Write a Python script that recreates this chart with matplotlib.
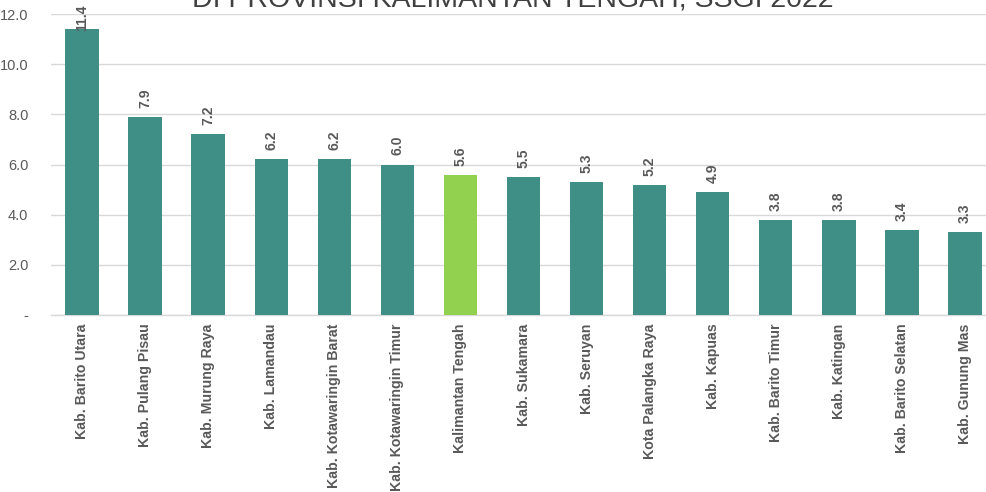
import matplotlib.pyplot as plt
import numpy as np

# === Data ===
wilayah = [
    "Kab. Barito Utara", "Kab. Pulang Pisau", "Kab. Murung Raya",
    "Kab. Lamandau", "Kab. Kotawaringin Barat", "Kab. Kotawaringin Timur",
    "Kalimantan Tengah", "Kab. Sukamara", "Kab. Seruyan",
    "Kota Palangka Raya", "Kab. Kapuas", "Kab. Barito Timur",
    "Kab. Katingan", "Kab. Barito Selatan", "Kab. Gunung Mas",
]
nilai = [11.4, 7.9, 7.2, 6.2, 6.2, 6.0, 5.6, 5.5, 5.3, 5.2, 4.9, 3.8, 3.8, 3.4, 3.3]
yticks = [0, 2, 4, 6, 8, 10, 12]
ytick_labels = ["-", "2.0", "4.0", "6.0", "8.0", "10.0", "12.0"]

TEAL = "#3F8F87"
GREEN = "#92D050"
GRAY = "#595959"

plt.rcParams['font.family'] = ['Liberation Sans', 'DejaVu Sans']

fig = plt.figure(figsize=(9.86, 4.92), dpi=100)
ax = fig.add_axes([50.5 / 986, 1 - 315 / 492, 946 / 986, 301 / 492])

x = np.arange(len(wilayah))
colors = [GREEN if w == "Kalimantan Tengah" else TEAL for w in wilayah]
ax.bar(x, nilai, width=0.53, color=colors, zorder=3)

for xi, v in zip(x, nilai):
    if v > 11:
        # label pushed inside the plot area when the bar is close to the top
        ax.annotate(f"{v:.1f}", (xi, 12), xytext=(0, 7), textcoords="offset points",
                    rotation=90, ha="center", va="top", fontsize=10,
                    fontweight="bold", color=GRAY, zorder=4)
    else:
        ax.annotate(f"{v:.1f}", (xi, v), xytext=(0, 6.5), textcoords="offset points",
                    rotation=90, ha="center", va="bottom", fontsize=10,
                    fontweight="bold", color=GRAY, zorder=4)

ax.set_xlim(-0.5, len(wilayah) - 0.5)
ax.set_ylim(0, 12)
ax.set_yticks(yticks)
ax.set_yticklabels(ytick_labels, fontsize=10.5, color=GRAY)
ax.set_xticks(x)
ax.set_xticklabels(wilayah, rotation=90, fontsize=10.2, fontweight="bold", color=GRAY)
ax.tick_params(axis="both", length=0)
ax.tick_params(axis="x", pad=6)
ax.tick_params(axis="y", pad=16)

ax.grid(axis="y", color="#D9D9D9", linewidth=1, zorder=0)
for s in ["top", "right", "left"]:
    ax.spines[s].set_visible(False)
ax.spines["bottom"].set_color("#D9D9D9")
ax.spines["bottom"].set_linewidth(1)

fig.text(0.52, 1 - 7 / 492, "DI PROVINSI KALIMANTAN TENGAH, SSGI 2022",
         ha="center", va="baseline", fontsize=20.5, color="#404040")

fig.savefig("out.png", dpi=100)
